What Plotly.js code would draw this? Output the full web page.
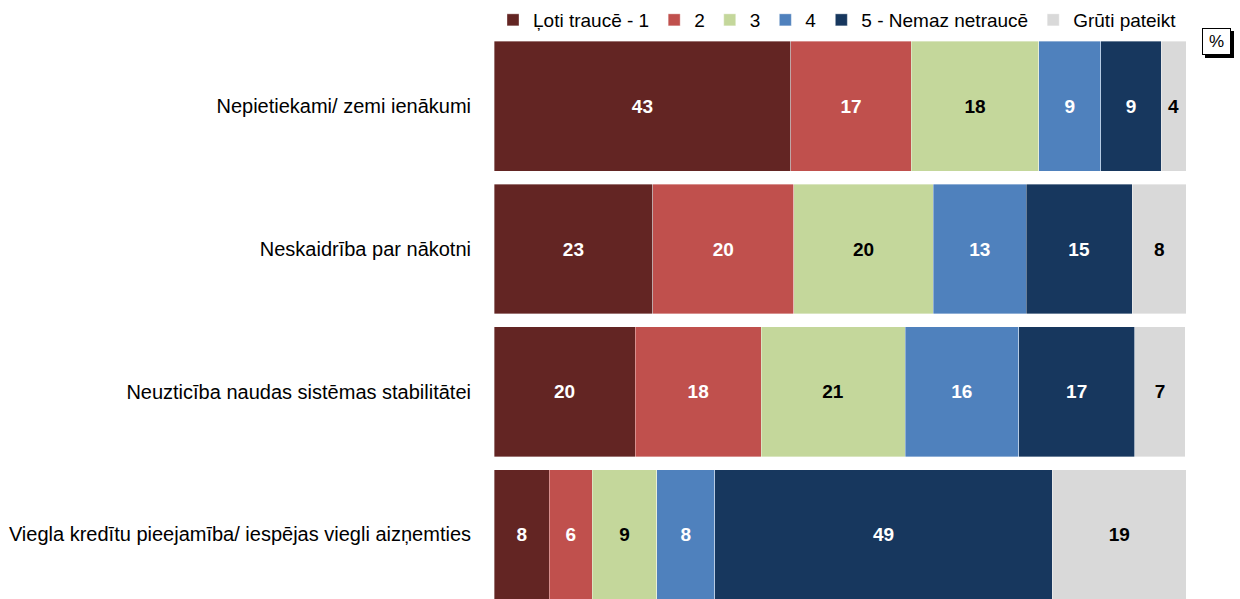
<!DOCTYPE html>
<html>
<head>
<meta charset="utf-8">
<script src="https://cdn.plot.ly/plotly-3.0.1.min.js"></script>
<style>html,body{margin:0;padding:0;background:#fff;}#chart{width:1240px;height:599px;}</style>
</head>
<body>
<div id="chart"></div>
<script>
// Categories (top to bottom)
const categories = [
  "Nepietiekami/ zemi ienākumi",
  "Neskaidrība par nākotni",
  "Neuzticība naudas sistēmas stabilitātei",
  "Viegla kredītu pieejamība/ iespējas viegli aizņemties"
];
// Series names
const seriesNames = ["Ļoti traucē - 1", "2", "3", "4", "5 - Nemaz netraucē", "Grūti pateikt"];
// Values (%)
const s1 = [42.9, 22.95, 20.4, 8.0];
const s2 = [17.4, 20.35, 18.2, 6.2];
const s3 = [18.4, 20.2, 20.8, 9.3];
const s4 = [9.0, 13.4, 16.4, 8.4];
const s5 = [8.7, 15.3, 16.8, 48.8];
const s6 = [3.6, 7.9, 7.3, 19.3];
// Displayed labels
const l1 = ["43", "23", "20", "8"];
const l2 = ["17", "20", "18", "6"];
const l3 = ["18", "20", "21", "9"];
const l4 = ["9", "13", "16", "8"];
const l5 = ["9", "15", "17", "49"];
const l6 = ["4", "8", "7", "19"];

const seriesValues = [s1, s2, s3, s4, s5, s6];
const seriesLabels = [l1, l2, l3, l4, l5, l6];
const colors = ["#632523", "#C0504D", "#C4D79B", "#4F81BD", "#17375E", "#D9D9D9"];
const textColors = ["#FFFFFF", "#FFFFFF", "#000000", "#FFFFFF", "#FFFFFF", "#000000"];

const font = "Liberation Sans, Arial, sans-serif";

const traces = seriesValues.map((vals, i) => ({
  type: "bar",
  orientation: "h",
  name: seriesNames[i],
  y: categories,
  x: vals,
  text: seriesLabels[i],
  texttemplate: "%{text}",
  textposition: "inside",
  insidetextanchor: "middle",
  textangle: 0,
  constraintext: "none",
  insidetextfont: {family: font, size: 19, color: textColors[i], weight: "bold"},
  marker: {color: colors[i], line: {color: "rgba(255,255,255,0.45)", width: 0.8}},
  hoverinfo: "none"
}));

// pixel helpers for paper coords
const L = 494, R = 54, T = 35, B = 0, W = 1240, H = 599;
const pw = W - L - R, ph = H - T - B;
const px = x => (x - L) / pw;
const py = y => 1 - (y - T) / ph;

const layout = {
  width: W, height: H,
  margin: {l: L, r: R, t: T, b: B, pad: 0},
  paper_bgcolor: "#fff",
  plot_bgcolor: "#fff",
  barmode: "stack",
  bargap: 0.091,
  showlegend: true,
  legend: {
    orientation: "h",
    x: px(1182), xanchor: "right",
    y: py(20), yanchor: "middle",
    font: {family: font, size: 19, color: "#000"},
    traceorder: "normal",
    itemclick: false, itemdoubleclick: false,
    bgcolor: "rgba(0,0,0,0)"
  },
  xaxis: {
    range: [0, 100],
    showticklabels: false, showgrid: false, zeroline: false, showline: false, ticks: "",
    fixedrange: true
  },
  yaxis: {
    type: "category",
    range: [3.452, -0.5],
    showgrid: false, zeroline: false, showline: false, ticks: "",
    ticklabelstandoff: 22,
    tickfont: {family: font, size: 20, color: "#000"},
    fixedrange: true
  },
  shapes: [
    {type: "rect", xref: "paper", yref: "paper",
     x0: px(1205), x1: px(1234), y0: py(58), y1: py(31),
     fillcolor: "#000", line: {width: 0}}
  ],
  annotations: [
    {xref: "paper", yref: "paper", x: px(1216.5), y: py(41.5),
     text: "%", showarrow: false, xanchor: "center", yanchor: "middle",
     width: 27, height: 25, bgcolor: "#fff", bordercolor: "#000", borderwidth: 1, borderpad: 0,
     font: {family: font, size: 17, color: "#000"}}
  ]
};

Plotly.newPlot("chart", traces, layout, {displayModeBar: false, staticPlot: true});
</script>
</body>
</html>
